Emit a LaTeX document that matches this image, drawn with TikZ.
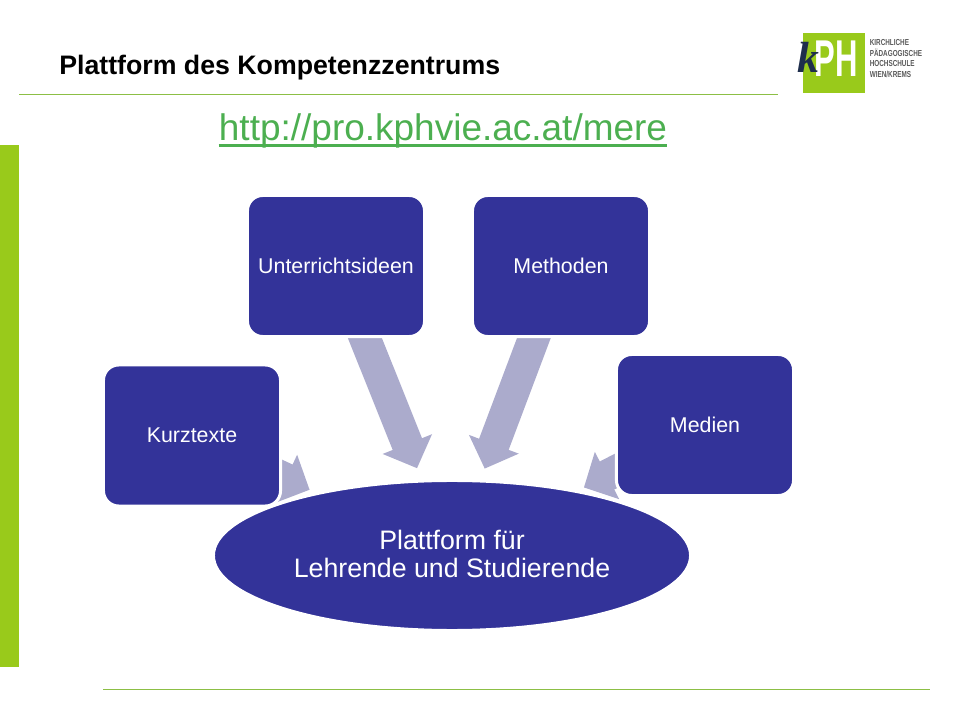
\documentclass[tikz,border=0pt]{standalone}
\usepackage{fontspec}
\setmainfont{Liberation Sans}
\newfontfamily\logoserif{Liberation Serif}
\usetikzlibrary{arrows.meta,backgrounds,shapes.geometric}

\definecolor{kphgreen}{HTML}{99CA1B}
\definecolor{rulegreen}{HTML}{8CBF45}
\definecolor{linkgreen}{HTML}{4CAF50}
\definecolor{boxblue}{HTML}{333399}
\definecolor{arrowblue}{HTML}{ABABCC}
\definecolor{logonavy}{HTML}{1E2E4C}
\definecolor{logogrey}{HTML}{5A5A5A}

\tikzset{
    topicbox/.style={draw=white, fill=boxblue, text=white, line width=0.075cm, rounded corners=0.38cm,
        minimum width=4.425cm, minimum height=3.525cm, inner sep=0pt, font=\fontsize{15.2}{18}\selectfont},
    flowarrow/.style={draw=arrowblue, line width=0.79cm, -{Triangle[width=1.29cm,length=0.65cm,fill=arrowblue]}},
    rulegreenline/.style={draw=rulegreen, line width=0.6pt}
}

\begin{document}
\begin{tikzpicture}[x=0.025cm, y=-0.025cm]

    \useasboundingbox (0,0) rectangle (960,720);

    % Slide furniture
    \fill[kphgreen] (0,145) rectangle (19,667);
    \draw[rulegreenline] (19,94) -- (778,94);
    \draw[rulegreenline] (103,689) -- (930,689);

    % Title and link
    \node[anchor=base west, inner sep=0pt, font=\fontsize{19}{22}\selectfont\bfseries] (title) at (59,74.5) {Plattform des Kompetenzzentrums};
    \node[anchor=base, inner sep=0pt, text=linkgreen, font=\fontsize{26.3}{30}\selectfont] (link) at (443,141) {http://pro.kphvie.ac.at/mere};
    \draw[linkgreen, line width=1.9pt] ([yshift=-3.4pt]link.base west) -- ([yshift=-3.4pt]link.base east);

    % Logo
    \fill[kphgreen] (803,33) rectangle (865,93);
    \node[anchor=base west, inner sep=0pt, text=white, font=\fontsize{36.8}{40}\selectfont\bfseries] (logoph) at (814,77) {\scalebox{0.6}[1]{PH}};
    \node[anchor=base west, inner sep=0pt, text=logonavy, font=\logoserif\fontsize{31}{34}\selectfont\bfseries\itshape] (logok) at (797,73) {k};
    \node[anchor=north west, inner sep=0pt, text=logogrey, align=left, font=\fontsize{6.2}{7.4}\selectfont\bfseries] (logotext) at (869.5,39.5)
        {\scalebox{0.73}[1]{KIRCHLICHE}\\\scalebox{0.73}[1]{PÄDAGOGISCHE}\\\scalebox{0.73}[1]{HOCHSCHULE}\\\scalebox{0.73}[1]{WIEN/KREMS}};

    % Boxes around the platform
    \node[topicbox] (kurz) at (192,435.5) {Kurztexte};
    \node[topicbox] (ideen) at (336,266) {Unterrichtsideen};
    \node[topicbox] (methoden) at (561,266) {Methoden};
    \node[topicbox] (medien) at (705,425) {Medien};

    % Platform
    \node[ellipse, draw=white, fill=boxblue, text=white, line width=0.075cm, minimum width=11.925cm, minimum height=3.75cm,
        inner sep=0pt, align=center, font=\fontsize{19}{20}\selectfont] (platt) at (452,555.5) {Plattform für\\Lehrende und Studierende\\[-17.2pt]};

    % Arrows, behind the boxes
    \begin{scope}[on background layer]
        \draw[flowarrow, shorten >=3.92cm] (kurz.center) -- (platt.center);
        \draw[flowarrow, shorten >=2.35cm] (ideen.center) -- (platt.center);
        \draw[flowarrow, shorten >=2.32cm] (methoden.center) -- (platt.center);
        \draw[flowarrow, shorten >=3.71cm] (medien.center) -- (platt.center);
    \end{scope}

\end{tikzpicture}
\end{document}
